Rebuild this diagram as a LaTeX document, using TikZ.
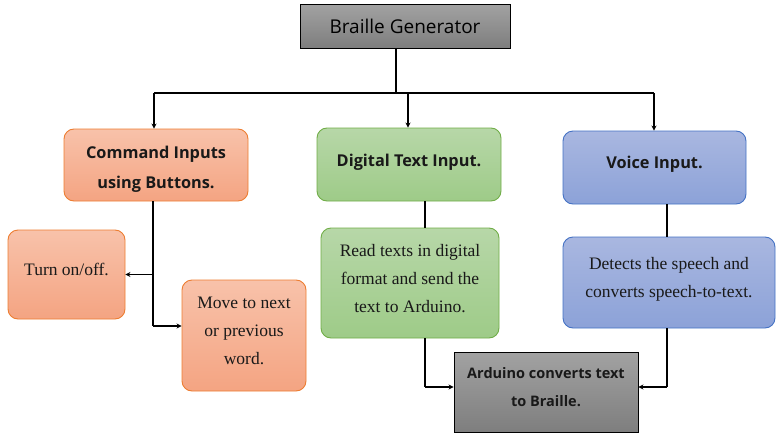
\documentclass[tikz,border=0pt]{standalone}
\usepackage{fontspec}
\usepackage{tikz}
\usetikzlibrary{arrows.meta}
\newfontfamily\headfont{Open Sans}
\newfontfamily\bodyfont{Liberation Serif}
\definecolor{orgtop}{HTML}{F8C2AA}
\definecolor{orgbot}{HTML}{F4A482}
\definecolor{orgline}{HTML}{ED7D31}
\definecolor{grntop}{HTML}{B7D7A8}
\definecolor{grnbot}{HTML}{9ECB88}
\definecolor{grnline}{HTML}{70AD47}
\definecolor{blutop}{HTML}{A9B7E0}
\definecolor{blubot}{HTML}{8CA2D8}
\definecolor{bluline}{HTML}{4472C4}
\definecolor{gretop}{HTML}{A2A2A2}
\definecolor{grebot}{HTML}{7E7E7E}

\begin{document}
\begin{tikzpicture}[x=1pt, y=-1pt,
  box/.style={rounded corners=10pt, line width=0.9pt, align=center, inner sep=0pt},
  orgbox/.style={box, draw=orgline, top color=orgtop, bottom color=orgbot},
  grnbox/.style={box, draw=grnline, top color=grntop, bottom color=grnbot},
  blubox/.style={box, draw=bluline, top color=blutop, bottom color=blubot},
  grebox/.style={draw=black, line width=0.9pt, top color=gretop, bottom color=grebot, align=center, inner sep=0pt},
  head/.style={font=\headfont\bfseries\fontsize{16.3}{30}\selectfont, text=black!90},
  body/.style={font=\bodyfont\fontsize{17.5}{28}\selectfont, text=black!90, text depth=10pt},
  wire/.style={line width=1.6pt},
  arr/.style={wire, -{Stealth[length=5pt,width=5pt]}}]
  \useasboundingbox (0,0) rectangle (782,447);

  % top row
  \node[grebox, minimum width=210, minimum height=44,
    font=\headfont\fontsize{19}{23}\selectfont] (title) at (405,26) {Braille Generator};
  \node[orgbox, head, text height=50pt, minimum width=184, minimum height=72] (cmd) at (156,165) {Command Inputs\\using Buttons.};
  \node[grnbox, head, text depth=8pt, minimum width=184, minimum height=73] (dig) at (409,164.5) {Digital Text Input.};
  \node[blubox, head, text depth=10pt, minimum width=183, minimum height=73] (voice) at (654.5,167.5) {Voice Input.};

  % second row
  \node[orgbox, body, minimum width=117, minimum height=89] (turn) at (66.5,274.5) {Turn on/off.};
  \node[orgbox, body, minimum width=124, minimum height=111] (move) at (244,335.5) {Move to next\\or previous\\word.};
  \node[grnbox, body, minimum width=178, minimum height=110] (read) at (410,283) {Read texts in digital\\format and send the\\text to Arduino.};
  \node[blubox, body, minimum width=212, minimum height=91] (det) at (669,282.5) {Detects the speech and\\converts speech-to-text.};
  \node[grebox, head, text depth=10pt, font=\headfont\bfseries\fontsize{14.5}{28}\selectfont, minimum width=184, minimum height=80] (ard) at (546,392) {Arduino converts text\\to Braille.};

  % fan out from the title
  \coordinate (bar) at (396,93);
  \draw[wire] (title.south -| bar) -- (bar);
  \draw[wire] (154,93) -- (654,93);
  \draw[arr] (154,93) -- (cmd.north -| 154,0);
  \draw[arr] (408,93) -- (dig.north -| 408,0);
  \draw[arr] (654,93) -- (voice.north -| 654,0);

  % command branch
  \coordinate (cend) at (153,326);
  \draw[wire] (cmd.south -| cend) -- (cend);
  \draw[arr] (turn.east -| cend) -- (turn.east);
  \draw[arr] (cend) -- (move.west |- cend);

  % digital branch
  \coordinate (dbend) at (425,387);
  \draw[wire] (dig.south -| dbend) -- (read.north -| dbend);
  \draw[wire] (read.south -| dbend) -- (dbend);
  \draw[arr] (dbend) -- (ard.west |- dbend);

  % voice branch
  \coordinate (vbend) at (667,387);
  \draw[wire] (voice.south -| vbend) -- (det.north -| vbend);
  \draw[wire] (det.south -| vbend) -- (vbend);
  \draw[arr] (vbend) -- (ard.east |- vbend);
\end{tikzpicture}
\end{document}
